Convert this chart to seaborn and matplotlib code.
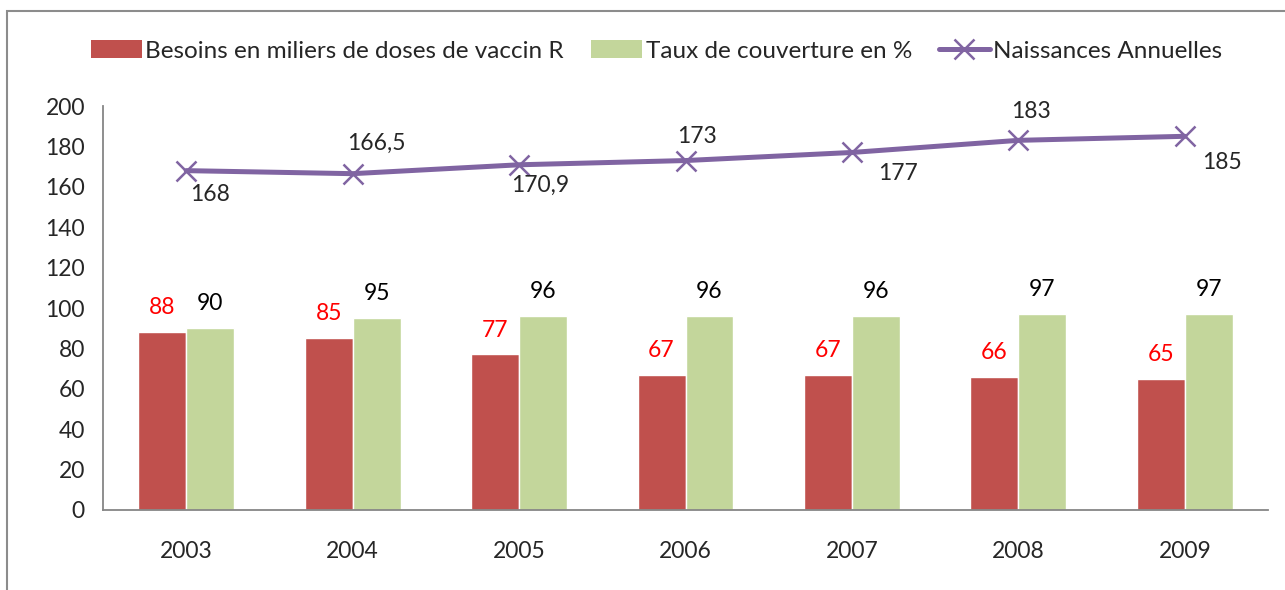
import numpy as np
import pandas as pd
import matplotlib.pyplot as plt
import seaborn as sns
from matplotlib.patches import Rectangle
from matplotlib.lines import Line2D
from matplotlib.patches import Patch


# Data
years = ["2003", "2004", "2005", "2006", "2007", "2008", "2009"]
besoins = [88, 85, 77, 67, 67, 66, 65]
taux = [90, 95, 96, 96, 96, 97, 97]
naissances = [168, 166.5, 170.9, 173, 177, 183, 185]

lbl_besoins = "Besoins en miliers de doses de vaccin R"
lbl_taux = "Taux de couverture en %"
lbl_naiss = "Naissances Annuelles"

# label offsets for the line values (points)
line_offsets = [(17, -17), (17, 22), (15, -15), (8, 17), (33, -15), (9, 21), (27, -19)]

RED = "#C0504D"
GREEN = "#C3D69B"
PURPLE = "#8064A2"
AXIS_GRAY = "#868686"
FS = 16.5

sns.set_style("white")
plt.rcParams["font.family"] = ["Lato", "DejaVu Sans"]
plt.rcParams["font.size"] = FS

df = pd.DataFrame({
    "year": years * 2,
    "value": besoins + taux,
    "serie": [lbl_besoins] * len(years) + [lbl_taux] * len(years),
})

fig = plt.figure(figsize=(12.85, 5.9), dpi=100)
ax = fig.add_axes([103 / 1285, 1 - 510 / 590, 1165 / 1285, 404 / 590])

sns.barplot(
    data=df, x="year", y="value", hue="serie",
    hue_order=[lbl_besoins, lbl_taux],
    palette=[RED, GREEN], width=0.576, gap=0,
    saturation=1, ax=ax, legend=False,
)

# bar value labels
for container, color in zip(ax.containers, ["red", "black"]):
    ax.bar_label(container, padding=10, color=color, fontsize=FS)

# line series
x = np.arange(len(years))
sns.lineplot(
    x=x, y=naissances, ax=ax, color=PURPLE, linewidth=3.6,
    marker="x", markersize=14, markeredgewidth=1.8, markeredgecolor=PURPLE,
)

for xi, val, off in zip(x, naissances, line_offsets):
    txt = f"{val:g}".replace(".", ",")
    ax.annotate(txt, (xi, val), xytext=off, textcoords="offset points",
                ha="center", va="center", fontsize=FS)

# axes styling
ax.set_xlim(-0.5, len(years) - 0.5)
ax.set_ylim(0, 200)
ax.set_yticks(range(0, 201, 20))
ax.set_xlabel("")
ax.set_ylabel("")
sns.despine(ax=ax)
for side in ["left", "bottom"]:
    ax.spines[side].set_color(AXIS_GRAY)
    ax.spines[side].set_linewidth(1.3)

ax.set_xticks(x)
ax.set_xticklabels(years)
ax.set_xticks(np.arange(-0.5, len(years), 1), minor=True)
ax.tick_params(axis="x", which="major", length=0, pad=22)
ax.tick_params(axis="x", which="minor", length=7, color=AXIS_GRAY, width=1.3, direction="out")
ax.tick_params(axis="y", length=7, color=AXIS_GRAY, width=1.3, direction="out", pad=6)
ax.tick_params(labelsize=FS)

# legend
handles = [
    Patch(facecolor=RED, edgecolor="none"),
    Patch(facecolor=GREEN, edgecolor="none"),
    Line2D([0], [0], color=PURPLE, lw=3.6, marker="x", markersize=14, markeredgewidth=1.8),
]
fig.legend(handles, [lbl_besoins, lbl_taux, lbl_naiss], loc="center",
           bbox_to_anchor=(0.511, 1 - 51 / 590), ncol=3, frameon=False,
           fontsize=17.5, handlelength=2.1, handletextpad=0.15,
           columnspacing=1.1, handleheight=0.7)

# chart frame
fig.patches.append(Rectangle((7 / 1285, -0.1), 1.2, 1 - 11 / 590 + 0.1,
                             transform=fig.transFigure, fill=False,
                             edgecolor="#8c8c8c", linewidth=1.5))

fig.savefig("out.png", dpi=100)
